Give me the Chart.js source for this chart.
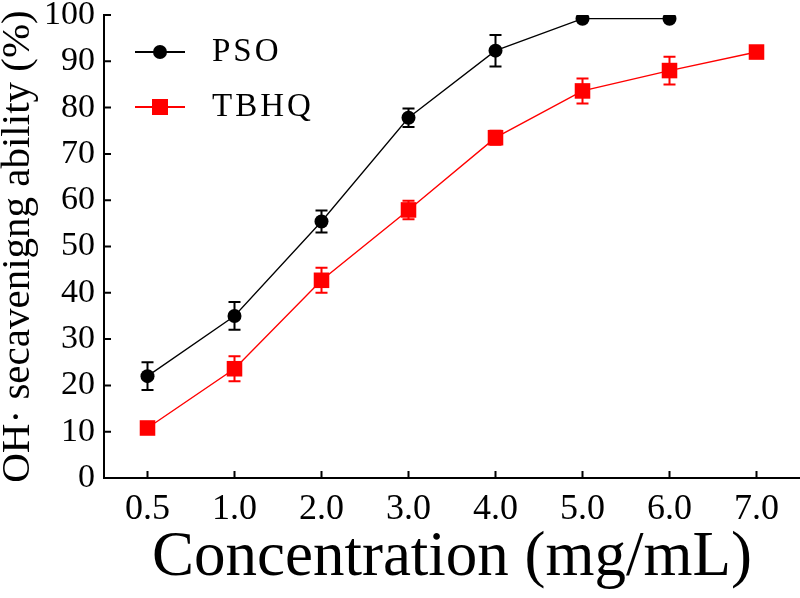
<!DOCTYPE html>
<html>
<head>
<meta charset="utf-8">
<script src="https://cdn.jsdelivr.net/npm/chart.js@4/dist/chart.umd.min.js"></script>
<style>
  html, body { margin: 0; padding: 0; background: #fff; overflow: hidden; }
  #wrap { width: 800px; height: 598px; }
  canvas { display: block; }
</style>
</head>
<body>
<div id="wrap"><canvas id="chart" width="800" height="598"></canvas></div>
<script>
// Daten
const concentrations = ["0.5", "1.0", "2.0", "3.0", "4.0", "5.0", "6.0", "7.0"];
const psoValues  = [22.0, 35.0, 55.4, 77.8, 92.3, 99.2, 99.2, null];
const psoErrors  = [3.0, 3.0, 2.4, 2.0, 3.4, 0, 0, null];
const tbhqValues = [10.8, 23.6, 42.7, 57.9, 73.5, 83.6, 88.0, 92.0];
const tbhqErrors = [1.0, 2.7, 2.7, 2.0, 1.5, 2.7, 3.0, 1.0];
const yTicks = [0, 10, 20, 30, 40, 50, 60, 70, 80, 90, 100];

const serif = "'Liberation Serif', 'Times New Roman', serif";

// Fehlerbalken für jeden Datensatz
const errorBars = {
  id: "errorBars",
  beforeDatasetsDraw(chart) {
    const { ctx, scales: { y } } = chart;
    chart.data.datasets.forEach((ds, di) => {
      const meta = chart.getDatasetMeta(di);
      ctx.save();
      ctx.strokeStyle = ds.borderColor;
      ctx.lineWidth = 2;
      meta.data.forEach((pt, i) => {
        const v = ds.data[i];
        const e = ds.errors[i];
        if (v == null || !e) return;
        const top = y.getPixelForValue(v + e);
        const bot = y.getPixelForValue(v - e);
        ctx.beginPath();
        ctx.moveTo(pt.x, top); ctx.lineTo(pt.x, bot);
        ctx.moveTo(pt.x - 6, top); ctx.lineTo(pt.x + 6, top);
        ctx.moveTo(pt.x - 6, bot); ctx.lineTo(pt.x + 6, bot);
        ctx.stroke();
      });
      ctx.restore();
    });
  }
};

// Ticks nach innen zeichnen
const inwardTicks = {
  id: "inwardTicks",
  afterDraw(chart) {
    const { ctx, scales: { x, y } } = chart;
    ctx.save();
    ctx.strokeStyle = "#000";
    ctx.lineWidth = 2;
    ctx.beginPath();
    x.ticks.forEach((t, i) => {
      const px = x.getPixelForTick(i);
      ctx.moveTo(px, x.top); ctx.lineTo(px, x.top - 7);
    });
    y.ticks.forEach((t, i) => {
      const py = y.getPixelForTick(i);
      ctx.moveTo(y.right, py); ctx.lineTo(y.right + 7, py);
    });
    ctx.stroke();
    ctx.restore();
  }
};

// Legende oben links (Linie + Marker + Text)
const lineLegend = {
  id: "lineLegend",
  afterDraw(chart) {
    const { ctx } = chart;
    const rows = [
      { ds: chart.data.datasets[0], y: 52 },
      { ds: chart.data.datasets[1], y: 107 }
    ];
    ctx.save();
    rows.forEach(r => {
      const ds = r.ds;
      ctx.strokeStyle = ds.borderColor;
      ctx.fillStyle = ds.backgroundColor;
      ctx.lineWidth = 2;
      ctx.beginPath();
      ctx.moveTo(135, r.y); ctx.lineTo(185, r.y);
      ctx.stroke();
      if (ds.pointStyle === "rect") {
        ctx.fillRect(160 - 8, r.y - 8, 16, 16);
      } else {
        ctx.beginPath();
        ctx.arc(160, r.y, 7, 0, Math.PI * 2);
        ctx.fill();
      }
      ctx.fillStyle = "#000";
      ctx.font = "33px " + serif;
      ctx.letterSpacing = "3px";
      ctx.textBaseline = "middle";
      ctx.textAlign = "left";
      ctx.fillText(ds.label, 212, r.y);
    });
    ctx.restore();
  }
};

new Chart(document.getElementById("chart"), {
  type: "line",
  data: {
    labels: concentrations,
    datasets: [
      {
        label: "PSO",
        data: psoValues,
        errors: psoErrors,
        borderColor: "#000000",
        backgroundColor: "#000000",
        borderWidth: 1.3,
        pointStyle: "circle",
        pointRadius: 7,
        pointBorderWidth: 0,
        tension: 0,
        spanGaps: false
      },
      {
        label: "TBHQ",
        data: tbhqValues,
        errors: tbhqErrors,
        borderColor: "#ff0000",
        backgroundColor: "#ff0000",
        borderWidth: 1.4,
        pointStyle: "rect",
        pointRadius: 11,
        pointBorderWidth: 0,
        tension: 0
      }
    ]
  },
  options: {
    responsive: false,
    animation: false,
    layout: { autoPadding: false, padding: { top: 15, right: 0, left: 0, bottom: 0 } },
    plugins: {
      legend: { display: false },
      tooltip: { enabled: false }
    },
    scales: {
      x: {
        type: "category",
        offset: true,
        grid: { display: false, drawTicks: false },
        border: { display: true, color: "#000", width: 2 },
        ticks: {
          color: "#000",
          padding: 10,
          maxRotation: 0,
          font: { family: serif, size: 36 }
        },
        title: {
          display: true,
          text: "Concentration (mg/mL)",
          color: "#000",
          font: { family: serif, size: 63, lineHeight: 1 },
          padding: { top: 0, bottom: 8 }
        },
        afterFit(scale) {
          scale.height = 120;
          scale.paddingLeft = 0;
          scale.paddingRight = 0;
        }
      },
      y: {
        min: 0,
        max: 100,
        afterBuildTicks(scale) {
          scale.ticks = yTicks.map(v => ({ value: v }));
        },
        grid: { display: false, drawTicks: false },
        border: { display: true, color: "#000", width: 2 },
        ticks: {
          color: "#000",
          padding: 9,
          font: { family: serif, size: 34 }
        },
        title: {
          display: true,
          text: "OH\u00B7 secavenigng ability (%)",
          color: "#000",
          font: { family: serif, size: 41, lineHeight: 0.88 },
          padding: { top: 0, bottom: 0 }
        },
        afterFit(scale) {
          scale.width = 104;
          scale.paddingTop = 0;
          scale.paddingBottom = 0;
        }
      }
    }
  },
  plugins: [errorBars, inwardTicks, lineLegend]
});
</script>
</body>
</html>
